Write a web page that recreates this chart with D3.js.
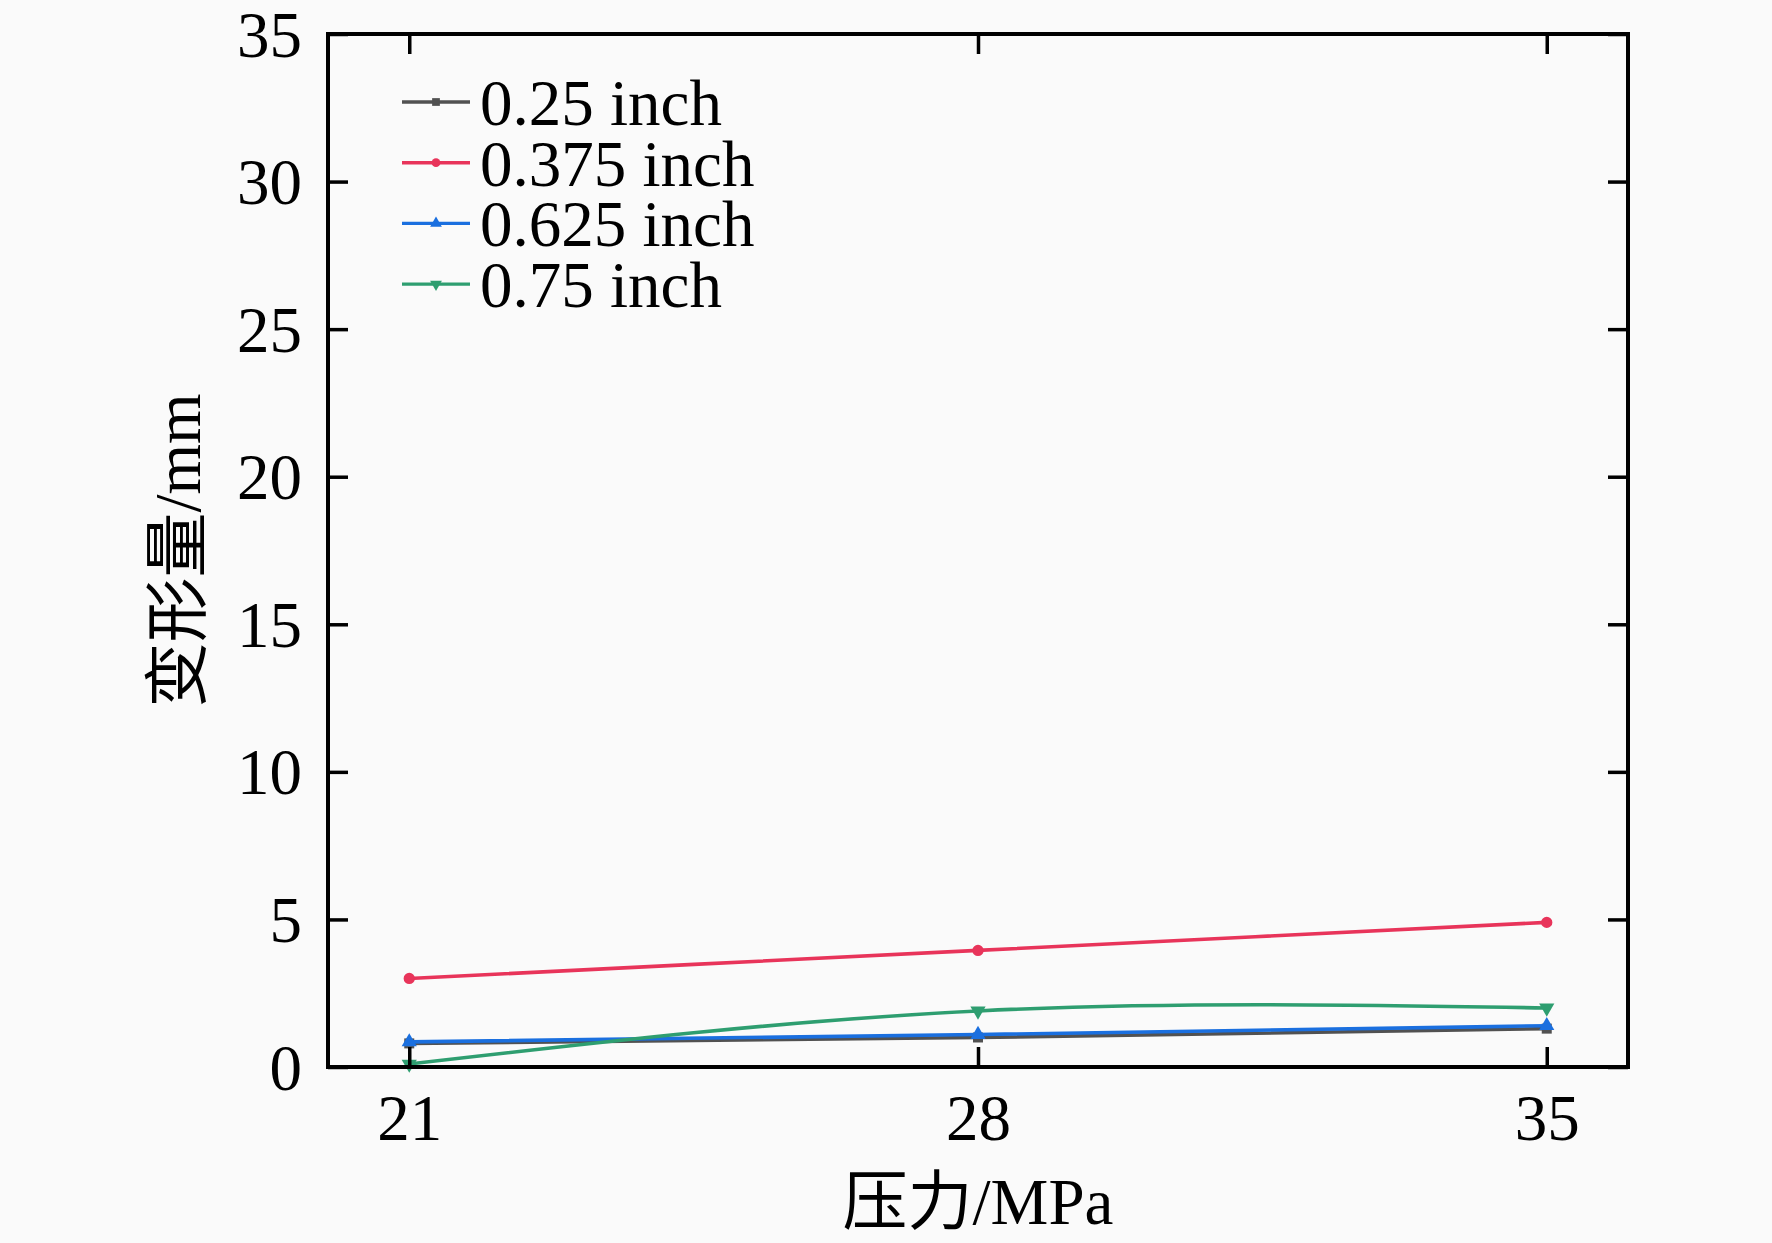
<!DOCTYPE html>
<html><head><meta charset="utf-8">
<script src="https://cdn.jsdelivr.net/npm/d3@7"></script>
<style>
html,body{margin:0;padding:0;background:#fafafa;}
svg{display:block;}
text{font-family:"Liberation Serif","Times New Roman","Noto Sans CJK SC",serif;fill:#000;}
</style></head>
<body>
<script>
const pressures = [21, 28, 35];
const seriesNames = ["0.25 inch", "0.375 inch", "0.625 inch", "0.75 inch"];
const v025 = [0.8, 1.0, 1.3];
const v0375 = [3.0, 3.95, 4.9];
const v0625 = [0.85, 1.1, 1.4];
const v075 = [0.1, 1.9, 2.0];
const yTicks = [0, 5, 10, 15, 20, 25, 30, 35];
const xTicks = [21, 28, 35];
const colors = ["#515151", "#e8345a", "#1a6fdf", "#2e9e70"];
const symbols = [d3.symbolSquare, d3.symbolCircle, d3.symbolTriangle, "down"];

const W = 1772, H = 1243;
const m = {left: 328, right: 1628, top: 34, bottom: 1067};
const svg = d3.select("body").append("svg").attr("width", W).attr("height", H);
svg.append("rect").attr("width", W).attr("height", H).attr("fill", "#fafafa");

const x = d3.scaleLinear().domain([20, 36]).range([m.left, m.right]);
const y = d3.scaleLinear().domain([0, 35]).range([m.bottom, m.top]);

const allVals = [v025, v0375, v0625, v075];
const series = seriesNames.map((n, i) => ({name: n, color: colors[i], sym: symbols[i],
  pts: pressures.map((p, j) => ({x: p, y: allVals[i][j]}))}));

const line = d3.line().x(d => x(d.x)).y(d => y(d.y)).curve(d3.curveNatural);

function marker(g, sym, size, color) {
  if (sym === "down") {
    g.append("path").attr("d", d3.symbol(d3.symbolTriangle, size)()).attr("transform", "rotate(180)").attr("fill", color);
  } else {
    g.append("path").attr("d", d3.symbol(sym, size)()).attr("fill", color);
  }
}

const plot = svg.append("g");
series.forEach(s => {
  plot.append("path").datum(s.pts).attr("d", line).attr("fill", "none")
    .attr("stroke", s.color).attr("stroke-width", 3.6);
  s.pts.forEach(p => {
    const g = plot.append("g").attr("transform", `translate(${x(p.x)},${y(p.y)})`);
    marker(g, s.sym, 100, s.color);
  });
});

// axes (ticks inward)
const tickLen = 20;
const axB = svg.append("g").attr("transform", `translate(0,${m.bottom})`)
  .call(d3.axisBottom(x).tickValues(xTicks).tickSize(-tickLen).tickPadding(27).tickFormat(d3.format("d")));
const axT = svg.append("g").attr("transform", `translate(0,${m.top})`)
  .call(d3.axisTop(x).tickValues(xTicks).tickSize(-tickLen).tickFormat(""));
const axL = svg.append("g").attr("transform", `translate(${m.left},0)`)
  .call(d3.axisLeft(y).tickValues(yTicks).tickSize(-tickLen).tickPadding(tickLen + 6).tickFormat(d3.format("d")));
const axR = svg.append("g").attr("transform", `translate(${m.right},0)`)
  .call(d3.axisRight(y).tickValues(yTicks).tickSize(-tickLen).tickFormat(""));
[axB, axT, axL, axR].forEach(a => {
  a.select(".domain").remove();
  a.selectAll(".tick line").attr("stroke", "#000").attr("stroke-width", 3.5);
  a.selectAll("text").attr("font-size", 65).attr("font-family", '"Liberation Serif","Times New Roman",serif').attr("fill", "#000");
});
axL.selectAll("text").attr("dy", "0.34em");
svg.append("rect").attr("x", m.left).attr("y", m.top).attr("width", m.right - m.left).attr("height", m.bottom - m.top)
  .attr("fill", "none").attr("stroke", "#000").attr("stroke-width", 4);

// axis titles
svg.append("text").attr("x", (m.left + m.right) / 2).attr("y", 1224).attr("text-anchor", "middle")
  .attr("font-size", 65).text("压力/MPa");
svg.append("text").attr("transform", `translate(200,${(m.top + m.bottom) / 2}) rotate(-90)`)
  .attr("text-anchor", "middle").attr("font-size", 65).text("变形量/mm");

// legend
const lg = svg.append("g");
series.forEach((s, i) => {
  const by = 125 + i * 60.7;
  const ly = by - 23;
  lg.append("line").attr("x1", 402).attr("x2", 470).attr("y1", ly).attr("y2", ly)
    .attr("stroke", s.color).attr("stroke-width", 3.4);
  const g = lg.append("g").attr("transform", `translate(436,${ly})`);
  marker(g, s.sym, 60, s.color);
  lg.append("text").attr("x", 480).attr("y", by).attr("font-size", 65).text(s.name);
});
</script>
</body></html>
